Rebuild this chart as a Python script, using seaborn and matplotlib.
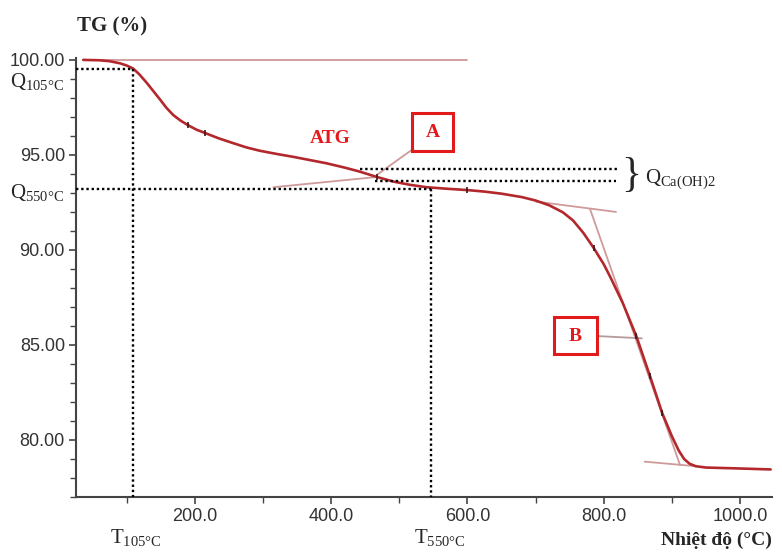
import matplotlib
matplotlib.use("Agg")
import matplotlib.pyplot as plt
from matplotlib.patches import Rectangle
from matplotlib.ticker import MultipleLocator, FuncFormatter
import numpy as np
import pandas as pd
import seaborn as sns

# Thermogravimetric curve (temperature in °C, residual mass in %)
temperature = [36, 60, 75, 90, 100, 109, 118, 129, 139, 149, 158, 168, 179, 190, 202,
               215, 235, 256, 275, 295, 320, 344, 370, 393, 420, 442, 467, 491, 515,
               540, 570, 600, 625, 650, 680, 700, 720, 740, 755, 770, 785, 800, 810,
               828, 848, 868, 886, 900, 910, 918, 926, 935, 950, 1000, 1045]
tg_mass = [100.00, 99.98, 99.93, 99.82, 99.70, 99.55, 99.25, 98.80, 98.35, 97.90, 97.48,
           97.10, 96.80, 96.56, 96.33, 96.15, 95.87, 95.62, 95.40, 95.22, 95.05, 94.90,
           94.72, 94.56, 94.33, 94.12, 93.84, 93.60, 93.43, 93.30, 93.22, 93.15, 93.07,
           92.96, 92.78, 92.60, 92.35, 91.98, 91.55, 90.90, 90.12, 89.25, 88.55, 87.20,
           85.45, 83.35, 81.40, 80.20, 79.45, 79.00, 78.75, 78.62, 78.55, 78.50, 78.45]

# Small instrument marks sitting on the curve
mark_temp = [190, 215, 467, 600, 785, 848, 868, 886]
mark_mass = [96.56, 96.15, 93.84, 93.15, 90.12, 85.45, 83.35, 81.40]

# Construction lines (tangents) as (T1, m1, T2, m2)
tangents = [
    (35, 100.00, 600, 100.00),
    (315, 93.30, 467, 93.84),
    (700, 92.55, 818, 92.00),
    (780, 92.14, 912, 78.68),
    (860, 78.86, 935, 78.62),
]

# Reference temperatures and masses
t105, q105 = 109, 99.53
t550, q550 = 547, 93.19
qca_top, qca_bottom = 94.25, 93.63
qca_t_start, qca_t_end = 442, 821

x_ticks = [200, 400, 600, 800, 1000]
y_ticks = [80, 85, 90, 95, 100]

sns.set_style("ticks")
plt.rcParams["font.family"] = ["Liberation Sans", "DejaVu Sans"]
plt.rcParams["mathtext.fontset"] = "custom"
plt.rcParams["mathtext.rm"] = "Liberation Serif"
plt.rcParams["mathtext.it"] = "Liberation Serif:italic"
plt.rcParams["mathtext.bf"] = "Liberation Serif:bold"

W, H = 782, 556
fig = plt.figure(figsize=(W / 100, H / 100), dpi=100)
ax = fig.add_axes([76 / W, 59 / H, 696 / W, 439 / H])

curve_red = "#b3282c"
tangent_col = "#cf9a9a"
box_red = "#e31a1c"
serif = ["Liberation Serif", "DejaVu Serif"]

# Tangent / construction lines
for (t1, m1, t2, m2) in tangents:
    ax.plot([t1, t2], [m1, m2], color=tangent_col, lw=1.3, zorder=2)

df = pd.DataFrame({"T": temperature, "TG": tg_mass})
sns.lineplot(data=df, x="T", y="TG", ax=ax, color=curve_red, lw=1.9, sort=False,
             estimator=None, zorder=3)
ax.plot(mark_temp, mark_mass, ls="none", marker="|", ms=4, mew=1.2, color="#3a1a1a",
        zorder=4)

# Dotted reference lines
dot = dict(color="black", lw=1.7, ls=(0, (1, 1.2)), zorder=5)
ax.plot([25.3, t105], [q105, q105], **dot)
ax.plot([t105, t105], [q105, 77.0], **dot)
ax.plot([25.3, t550], [q550, q550], **dot)
ax.plot([t550, t550], [q550, 77.0], **dot)
ax.plot([qca_t_start, qca_t_end], [qca_top, qca_top], **dot)
ax.plot([qca_t_start + 22, qca_t_end - 3], [qca_bottom, qca_bottom], **dot)

# Labels A and B with their leader lines
ax.plot([467, 518], [93.95, 95.26], color=tangent_col, lw=1.3, zorder=2)
ax.plot([790, 856], [85.47, 85.35], color="#b79a9a", lw=1.3, zorder=2)
for (x0, x1, y0, y1, letter) in [(518.5, 578.7, 95.21, 97.21, "A"),
                                 (727.0, 790.0, 84.53, 86.47, "B")]:
    ax.add_patch(Rectangle((x0, y0), x1 - x0, y1 - y0, fill=False, ec=box_red,
                           lw=2.2, zorder=6, clip_on=False))
    ax.text((x0 + x1) / 2, (y0 + y1) / 2 - 0.05, letter, color=box_red,
            fontsize=14, fontweight="bold", family=serif, ha="center", va="center",
            zorder=7)

ax.text(398, 95.85, "ATG", color=box_red, fontsize=14,
        fontweight="bold", family=serif, ha="center", va="center")

# Bracket for the Ca(OH)2 mass loss
ax.text(840, 93.88, "}", fontsize=30, family=serif, ha="center", va="center",
        clip_on=False)
ax.text(861, 93.75, r"$\mathrm{Q_{Ca(OH)2}}$", fontsize=15, ha="left", va="center",
        clip_on=False)

# Axes styling
ax.set_xlim(25.3, 1047)
ax.set_ylim(77.0, 100.1)
ax.set_xticks(x_ticks)
ax.set_yticks(y_ticks)
ax.xaxis.set_minor_locator(MultipleLocator(100))
ax.yaxis.set_minor_locator(MultipleLocator(1))
ax.xaxis.set_major_formatter(FuncFormatter(lambda v, p: f"{v:.1f}"))
ax.yaxis.set_major_formatter(FuncFormatter(lambda v, p: f"{v:.2f}"))
ax.tick_params(axis="both", which="major", length=5, width=1.2, color="#444444",
               labelsize=13, labelcolor="#333333", direction="out", pad=3)
ax.tick_params(axis="both", which="minor", length=4, width=1.0, color="#444444",
               direction="out")
ax.set_xlabel("")
ax.set_ylabel("")
for side in ["top", "right"]:
    ax.spines[side].set_visible(False)
for side in ["left", "bottom"]:
    ax.spines[side].set_color("#444444")
    ax.spines[side].set_linewidth(1.5)

# Axis titles and reference labels around the frame
def fx(px):
    return px / W

def fy(py):
    return 1 - py / H

fig.text(fx(112), fy(26), "TG (%)", fontsize=15, fontweight="bold", family=serif,
         ha="center", va="center")
fig.text(fx(716), fy(540), "Nhiệt độ (°C)", fontsize=14, fontweight="bold",
         family=serif, ha="center", va="center")
fig.text(fx(10), fy(82), r"$\mathrm{Q_{105°C}}$", fontsize=15, ha="left", va="center")
fig.text(fx(10), fy(192), r"$\mathrm{Q_{550°C}}$", fontsize=15, ha="left", va="center")
fig.text(fx(110), fy(537), r"$\mathrm{T_{105°C}}$", fontsize=15, ha="left", va="center")
fig.text(fx(414), fy(537), r"$\mathrm{T_{550°C}}$", fontsize=15, ha="left", va="center")

fig.savefig("out.png", dpi=100, facecolor="white")
